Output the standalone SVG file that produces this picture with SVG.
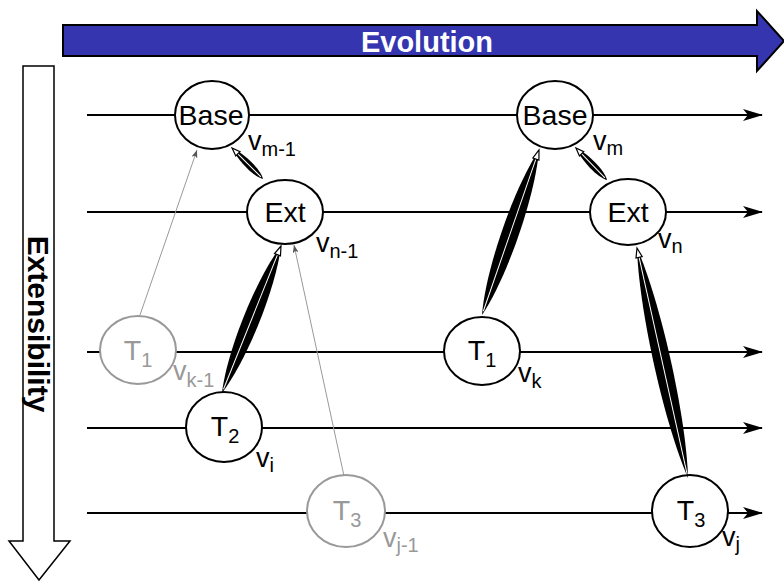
<svg xmlns="http://www.w3.org/2000/svg" width="784" height="583" viewBox="0 0 784 583">
<style>
.node{fill:#fff;stroke:#000;stroke-width:2}
.gnode{fill:#fff;stroke:#999;stroke-width:2}
.lbl{font-family:"Liberation Sans",Arial,sans-serif;font-size:27px;fill:#000}
.glbl{font-family:"Liberation Sans",Arial,sans-serif;font-size:27px;fill:#999}
.big{font-size:28.5px}
.sub{font-size:20px}
.tl{stroke:#000;stroke-width:2;fill:none;marker-end:url(#ah)}
.thin{stroke:#999;stroke-width:1;fill:none;marker-end:url(#gah)}
.sp{fill:#000}
.spl{stroke:#fff;stroke-width:1;fill:none}
.sph{fill:#fff;stroke:#000;stroke-width:1.2}
</style>
<defs>
<marker id="ah" markerUnits="userSpaceOnUse" viewBox="0 0 20 12" refX="19" refY="6" markerWidth="20" markerHeight="12" orient="auto">
<path d="M0,0 L20,6 L0,12 L5,6 Z" fill="#000"/>
</marker>
<marker id="gah" markerUnits="userSpaceOnUse" viewBox="0 0 8 6" refX="8" refY="3" markerWidth="8" markerHeight="6" orient="auto">
<path d="M0,0 L8,3 L0,6 L2,3 Z" fill="#555"/>
</marker>
</defs>

<g id="evolution">
<path d="M63,25 L757,25 L757,11 L784,41 L757,71 L757,56 L63,56 Z" fill="#3535b0" stroke="#000" stroke-width="2"/>
<text x="427" y="52" text-anchor="middle" font-family="Liberation Sans,Arial,sans-serif" font-weight="bold" font-size="29" fill="#fff">Evolution</text>
</g>

<g id="extensibility">
<path d="M23,66 L54,66 L54,541 L70,541 L39,580 L9,541 L23,541 Z" fill="#fff" stroke="#000" stroke-width="1.5"/>
<text transform="translate(28,324) rotate(90)" text-anchor="middle" font-family="Liberation Sans,Arial,sans-serif" font-weight="bold" font-size="30" fill="#000">Extensibility</text>
</g>

<g id="timelines">
<line class="tl" x1="87" y1="115" x2="762" y2="115"/>
<line class="tl" x1="87" y1="212" x2="762" y2="212"/>
<line class="tl" x1="87" y1="352" x2="762" y2="352"/>
<line class="tl" x1="87" y1="428" x2="762" y2="428"/>
<line class="tl" x1="87" y1="513" x2="762" y2="513"/>
</g>

<g id="base1">
<ellipse class="node" cx="212" cy="115" rx="37" ry="34"/>
<text class="lbl big" x="211" y="125" text-anchor="middle">Base</text>
<text class="lbl" x="248" y="150">v<tspan class="sub" dy="6">m-1</tspan></text>
</g>
<g id="ext1">
<ellipse class="node" cx="285" cy="212" rx="38" ry="32"/>
<text class="lbl big" x="285" y="222" text-anchor="middle">Ext</text>
<text class="lbl" x="316" y="252">v<tspan class="sub" dy="6">n-1</tspan></text>
</g>
<g id="base2">
<ellipse class="node" cx="555" cy="115" rx="38" ry="34"/>
<text class="lbl big" x="555" y="125" text-anchor="middle">Base</text>
<text class="lbl" x="593" y="150">v<tspan class="sub" dy="5">m</tspan></text>
</g>
<g id="ext2">
<ellipse class="node" cx="628" cy="212" rx="38" ry="33"/>
<text class="lbl big" x="628" y="222" text-anchor="middle">Ext</text>
<text class="lbl" x="658" y="248">v<tspan class="sub" dy="5">n</tspan></text>
</g>
<g id="t1-old">
<ellipse class="gnode" cx="138" cy="350" rx="38" ry="34"/>
<text class="glbl big" x="138" y="360" text-anchor="middle">T<tspan class="sub" dy="7">1</tspan></text>
<text class="glbl" x="173" y="380">v<tspan class="sub" dy="7">k-1</tspan></text>
</g>
<g id="t2">
<ellipse class="node" cx="224" cy="427" rx="38" ry="35"/>
<text class="lbl big" x="225" y="436" text-anchor="middle">T<tspan class="sub" dy="7">2</tspan></text>
<text class="lbl" x="256" y="467">v<tspan class="sub" dy="5">i</tspan></text>
</g>
<g id="t1">
<ellipse class="node" cx="482" cy="351" rx="38" ry="34"/>
<text class="lbl big" x="482" y="360" text-anchor="middle">T<tspan class="sub" dy="7">1</tspan></text>
<text class="lbl" x="518" y="382">v<tspan class="sub" dy="6">k</tspan></text>
</g>
<g id="t3-old">
<ellipse class="gnode" cx="346" cy="511" rx="39" ry="36"/>
<text class="glbl big" x="347" y="520" text-anchor="middle">T<tspan class="sub" dy="7">3</tspan></text>
<text class="glbl" x="383" y="547">v<tspan class="sub" dy="5">j-1</tspan></text>
</g>
<g id="t3">
<ellipse class="node" cx="690" cy="511" rx="38" ry="36"/>
<text class="lbl big" x="691" y="520" text-anchor="middle">T<tspan class="sub" dy="7">3</tspan></text>
<text class="lbl" x="722" y="546">v<tspan class="sub" dy="5">j</tspan></text>
</g>

<g id="connectors">
<g transform="translate(263,179) rotate(-135)">
<path class="sp" d="M0,0 C8,-5 30,-5 43.8,0 C30,5 8,5 0,0 Z"/>
<line class="spl" x1="3" y1="0" x2="36" y2="0"/>
<path class="sph" d="M43.8,0 L35.5,-3 L35.5,3 Z"/>
</g>
<g transform="translate(222,393) rotate(-68.13)">
<path class="sp" d="M0,0 C40,-11 118,-11 158.4,0 C118,11 40,11 0,0 Z"/>
<line class="spl" x1="4" y1="0" x2="150" y2="0"/>
<path class="sph" d="M158.4,0 L149,-3.2 L149,3.2 Z"/>
</g>
<g transform="translate(482,315) rotate(-70.94)">
<path class="sp" d="M0,0 C44,-11.5 130,-11.5 174.6,0 C130,11.5 44,11.5 0,0 Z"/>
<line class="spl" x1="4" y1="0" x2="166" y2="0"/>
<path class="sph" d="M174.6,0 L165,-3.2 L165,3.2 Z"/>
</g>
<g transform="translate(607,180) rotate(-134.1)">
<path class="sp" d="M0,0 C8,-5 31,-5 44.6,0 C31,5 8,5 0,0 Z"/>
<line class="spl" x1="3" y1="0" x2="37" y2="0"/>
<path class="sph" d="M44.6,0 L36.5,-3 L36.5,3 Z"/>
</g>
<g transform="translate(688,478) rotate(-102.5)">
<path class="sp" d="M0,0 C59,-11.5 176,-11.5 235.6,0 C176,11.5 59,11.5 0,0 Z"/>
<line class="spl" x1="4" y1="0" x2="227" y2="0"/>
<path class="sph" d="M235.6,0 L226,-3.2 L226,3.2 Z"/>
</g>
<line class="thin" x1="140" y1="315" x2="197" y2="150"/>
<line class="thin" x1="344" y1="476" x2="294" y2="245"/>
</g>
</svg>
